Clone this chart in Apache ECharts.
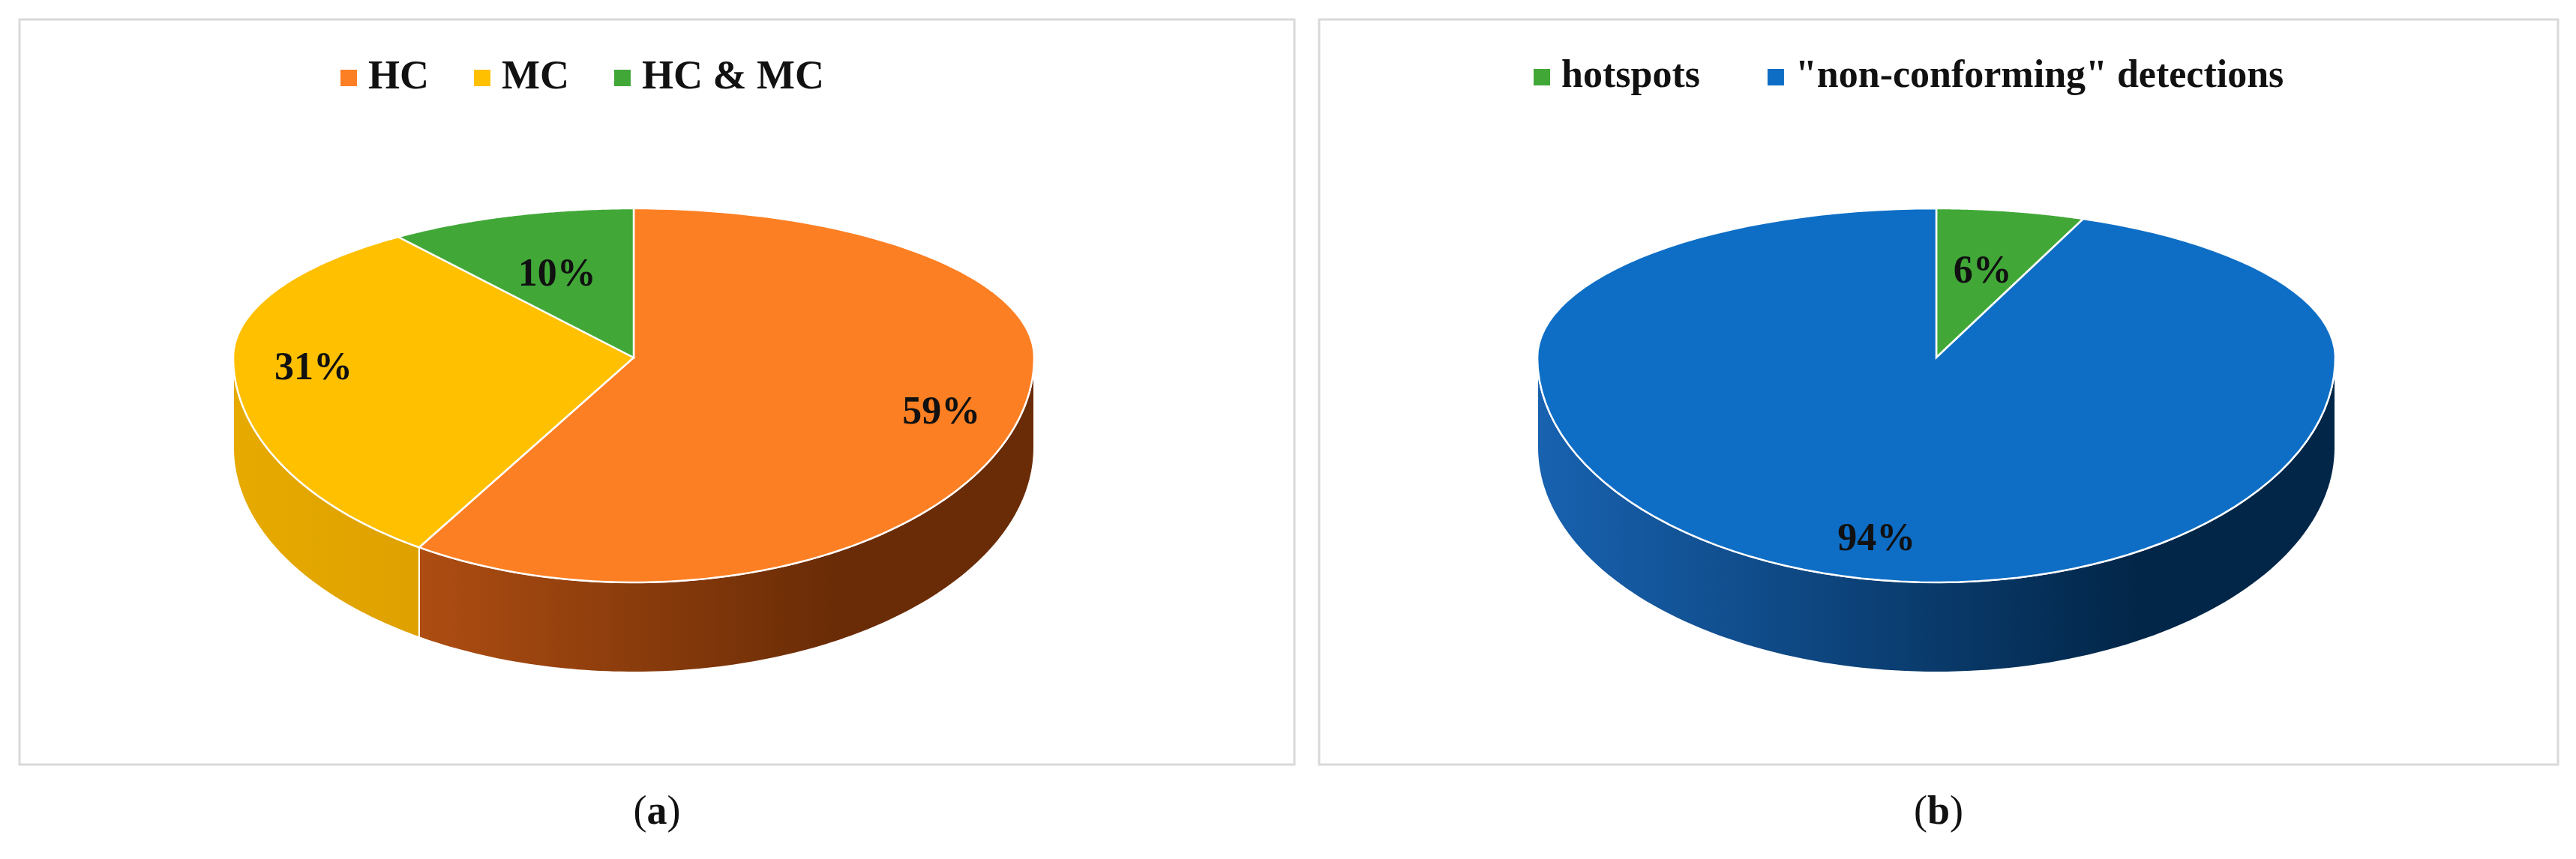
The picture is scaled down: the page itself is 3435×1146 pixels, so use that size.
<!DOCTYPE html><html><head><meta charset="utf-8">
<script src="https://cdn.jsdelivr.net/npm/echarts@6/dist/echarts.min.js"></script>
<style>html,body{margin:0;background:#fff}#c{width:3435px;height:1146px}</style></head><body><div id="c"></div>
<script>
var catsA=['HC','MC','HC & MC'];
var valsA=[59,31,10];
var colorsA=['#fd7f23','#ffc000','#41a838'];
var sideA=[['#cc5c18','#6a2c06'],['#e6aa00','#cc8c00'],['#2f8a28','#1a5015']];
var catsB=['hotspots','"non-conforming" detections'];
var valsB=[6,94];
var colorsB=['#41a838','#0e6ec5'];
var sideB=[['#2f8a28','#1a5015'],['#1862b0','#022648']];
var serif='"Liberation Serif","DejaVu Serif",serif';
var geomA={cx:845,cy:477,rx:534,ry1:199,ry2:300,d:120};
var geomB={cx:2582,cy:477,rx:532,ry1:199,ry2:300,d:120};
function pt(g,f,dy){var a=-Math.PI/2+f*2*Math.PI,s=Math.sin(a);return [g.cx+g.rx*Math.cos(a),g.cy+(s>0?g.ry2:g.ry1)*s+(dy||0)];}
function makeSeries(cats,vals,cols,sides,g){
  var tot=vals.reduce(function(a,b){return a+b},0),acc=0,out=[];
  cats.forEach(function(name,i){
    var f0=acc/tot,f1=(acc+vals[i])/tot;acc+=vals[i];
    out.push({type:'custom',name:name,coordinateSystem:'none',itemStyle:{color:cols[i]},data:[[f0,f1,vals[i]]],
      renderItem:function(p,api){
        var a=api.value(0),b=api.value(1),v=api.value(2),ch=[],n=120,k;
        var top=[[g.cx,g.cy]];for(k=0;k<=n;k++)top.push(pt(g,a+(b-a)*k/n));
        var w0=Math.max(a,0.25),w1=Math.min(b,0.75);
        if(w1>w0){var wall=[];for(k=0;k<=n;k++)wall.push(pt(g,w0+(w1-w0)*k/n));
          for(k=n;k>=0;k--)wall.push(pt(g,w0+(w1-w0)*k/n,g.d));
          ch.push({type:'polygon',z2:1,shape:{points:wall},style:{stroke:'#fff',lineWidth:2,
            fill:new echarts.graphic.LinearGradient(g.cx-g.rx,0,g.cx+g.rx*0.5,0,[{offset:0,color:sides[i][0]},{offset:1,color:sides[i][1]}],true)}});}
        ch.push({type:'polygon',z2:2,shape:{points:top},style:{fill:cols[i],stroke:'#fff',lineWidth:2.5}});
        var m=(a+b)/2,fr=v<15?0.62:0.8,pp=pt(g,m);
        var lx=g.cx+(pp[0]-g.cx)*fr,ly=g.cy+(pp[1]-g.cy)*fr+8;
        ch.push({type:'text',z2:3,x:lx,y:ly,style:{text:v+'%',fontFamily:serif,fontSize:52,fontWeight:'bold',fill:'#111',align:'center',verticalAlign:'middle'}});
        return {type:'group',children:ch};
      }});
  });
  return out;
}
var chart=echarts.init(document.getElementById('c'));
chart.setOption({animation:false,
 legend:[{data:catsA,left:449,top:72,width:1200,orient:'horizontal',textStyle:{fontFamily:serif,fontSize:54,fontWeight:'bold',color:'#111',padding:[0,0,0,10]},itemWidth:22,itemHeight:22,itemGap:60,icon:'rect'},
  {data:catsB,left:2040,top:72,width:1300,orient:'horizontal',textStyle:{fontFamily:serif,fontSize:52,fontWeight:'bold',color:'#111',padding:[0,0,0,10]},itemWidth:22,itemHeight:22,itemGap:90,icon:'rect'}],
 graphic:[{type:'rect',shape:{x:26,y:26,width:1700,height:994},style:{fill:'none',stroke:'#d9d9d9',lineWidth:3},z:-1},
  {type:'rect',shape:{x:1759,y:26,width:1652,height:994},style:{fill:'none',stroke:'#d9d9d9',lineWidth:3},z:-1},
  {type:'text',x:876,y:1085,style:{text:'({b|a})',fontFamily:serif,fontSize:54,rich:{b:{fontFamily:serif,fontSize:54,fontWeight:'bold'}},fill:'#111',align:'center',verticalAlign:'middle'}},
  {type:'text',x:2585,y:1085,style:{text:'({b|b})',fontFamily:serif,fontSize:54,rich:{b:{fontFamily:serif,fontSize:54,fontWeight:'bold'}},fill:'#111',align:'center',verticalAlign:'middle'}}],
 series:makeSeries(catsA,valsA,colorsA,sideA,geomA).concat(makeSeries(catsB,valsB,colorsB,sideB,geomB))
});
</script></body></html>
